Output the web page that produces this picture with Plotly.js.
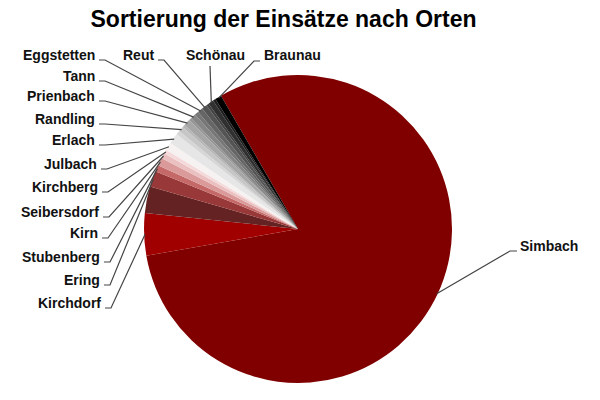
<!DOCTYPE html>
<html>
<head>
<meta charset="utf-8">
<script src="https://cdn.plot.ly/plotly-3.0.1.min.js"></script>
<style>
  html, body { margin: 0; padding: 0; background: #fff; }
  #plot { width: 600px; height: 400px; }
</style>
</head>
<body>
<div id="plot"></div>
<script>
// slices in drawing order (clockwise, starting with Simbach); '' = slice without a label
const places = ['Simbach', 'Kirchdorf', '', 'Ering', 'Stubenberg', 'Kirn', 'Seibersdorf', 'Kirchberg',
    'Julbach', 'Erlach', '', 'Randling', '', 'Prienbach', '', 'Tann', '', 'Eggstetten', 'Reut', '',
    'Schönau', '', 'Braunau'];
const counts = [580, 32, 20, 12, 5, 6, 4, 3, 6, 8, 3, 4, 2, 5, 2, 4, 3, 4, 4, 2, 4, 2, 5];
const sliceColors = ['#800000', '#a00000', '#642222', '#983838', '#c46868', '#da9a9a', '#ebc0c0', '#f4dada',
    '#f6f2f2', '#e6e6e6', '#d6d6d6', '#c6c6c6', '#b6b6b6', '#a6a6a6', '#969696', '#868686', '#767676',
    '#666666', '#545454', '#424242', '#303030', '#1e1e1e', '#000000'];

const W = 600, H = 400;
const cx = 298, cy = 229, r = 154;   // pie centre / radius in px
const startAngle = 330;              // first slice starts here (clockwise from 12 o'clock)

// where each label sits (px): text anchor point, knee of the leader line, end of the short stub
const labelPos = {
    'Simbach':     { x: 518, y: 246, anchor: 'left',   knee: [510, 251], stub: [517, 251] },
    'Kirchdorf':   { x: 103, y: 303, anchor: 'right',  knee: [111, 308], stub: [105, 308] },
    'Ering':       { x: 102, y: 280, anchor: 'right',  knee: [110, 285], stub: [104, 285] },
    'Stubenberg':  { x: 102, y: 257, anchor: 'right',  knee: [110, 262], stub: [104, 262] },
    'Kirn':        { x: 100, y: 233, anchor: 'right',  knee: [108, 238], stub: [102, 238] },
    'Seibersdorf': { x: 101, y: 212, anchor: 'right',  knee: [109, 217], stub: [103, 217] },
    'Kirchberg':   { x: 100, y: 187, anchor: 'right',  knee: [108, 192], stub: [102, 192] },
    'Julbach':     { x: 99,  y: 164, anchor: 'right',  knee: [107, 169], stub: [101, 169] },
    'Erlach':      { x: 97,  y: 140, anchor: 'right',  knee: [105, 145], stub: [99, 145] },
    'Randling':    { x: 97,  y: 119, anchor: 'right',  knee: [105, 124], stub: [99, 124] },
    'Prienbach':   { x: 97,  y: 96,  anchor: 'right',  knee: [105, 101], stub: [99, 101] },
    'Tann':        { x: 97,  y: 76,  anchor: 'right',  knee: [105, 81],  stub: [99, 81] },
    'Eggstetten':  { x: 97,  y: 55,  anchor: 'right',  knee: [105, 60],  stub: [99, 60] },
    'Reut':        { x: 156, y: 55,  anchor: 'right',  knee: [164, 60],  stub: [158, 60] },
    'Schönau':     { x: 215, y: 55,  anchor: 'center', knee: [210, 66],  stub: [210, 66] },
    'Braunau':     { x: 262, y: 55,  anchor: 'left',   knee: [254, 61],  stub: [260, 61] }
};

function px(x) { return x / W; }
function py(y) { return 1 - y / H; }

const total = counts.reduce((s, v) => s + v, 0);
const annotations = [];
const shapes = [];
let cum = 0;
counts.forEach(function(v, i) {
    const mid = (startAngle + (cum + v / 2) / total * 360) * Math.PI / 180;
    cum += v;
    const name = places[i];
    const pos = labelPos[name];
    if (!name || !pos) return;
    const ex = cx + (r - 1) * Math.sin(mid);
    const ey = cy - (r - 1) * Math.cos(mid);
    shapes.push({
        type: 'path', xref: 'paper', yref: 'paper',
        path: 'M' + px(ex) + ',' + py(ey) + ' L' + px(pos.knee[0]) + ',' + py(pos.knee[1]) +
              ' L' + px(pos.stub[0]) + ',' + py(pos.stub[1]),
        line: { color: '#444444', width: 1.2 }
    });
    annotations.push({
        text: '<b>' + name + '</b>', showarrow: false,
        xref: 'paper', yref: 'paper', x: px(pos.x), y: py(pos.y),
        xanchor: pos.anchor, yanchor: 'middle',
        font: { family: 'Liberation Sans, Arial, sans-serif', size: 14, color: '#111' }
    });
});

Plotly.newPlot('plot', [{
    type: 'pie',
    values: counts,
    text: places,
    sort: false,
    direction: 'clockwise',
    rotation: startAngle - 360,
    textinfo: 'none',
    hoverinfo: 'text+value',
    marker: { colors: sliceColors, line: { width: 0 } },
    domain: { x: [px(cx - r), px(cx + r)], y: [py(cy + r), py(cy - r)] },
    showlegend: false
}], {
    width: W, height: H,
    margin: { l: 0, r: 0, t: 0, b: 0 },
    paper_bgcolor: '#fff',
    title: {
        text: '<b>Sortierung der Einsätze nach Orten</b>',
        x: 0.4725, xanchor: 'center', y: py(19), yanchor: 'middle',
        font: { family: 'Liberation Sans, Arial, sans-serif', size: 23, color: '#000' }
    },
    annotations: annotations,
    shapes: shapes,
    showlegend: false
}, { displayModeBar: false });
</script>
</body>
</html>
